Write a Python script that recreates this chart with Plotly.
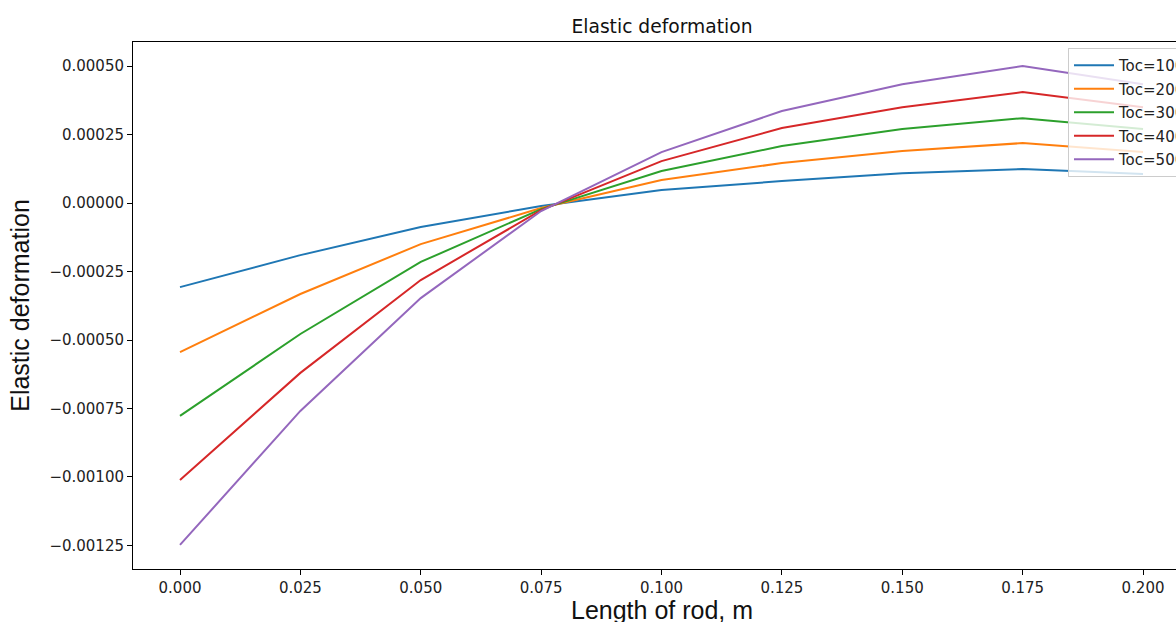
import plotly.graph_objects as go

x_len = [0.000, 0.025, 0.050, 0.075, 0.100, 0.125, 0.150, 0.175, 0.200]

toc_100 = [-0.000307, -0.000190, -0.0000876, -0.000011, 0.0000474, 0.0000803, 0.000109, 0.000124, 0.000106]
toc_200 = [-0.000544, -0.000332, -0.000150, -0.000018, 0.000084, 0.000146, 0.000190, 0.000219, 0.000186]
toc_300 = [-0.000777, -0.000478, -0.000215, -0.000022, 0.000117, 0.000208, 0.000270, 0.000310, 0.000270]
toc_400 = [-0.001011, -0.000620, -0.000281, -0.000026, 0.000153, 0.000274, 0.000350, 0.000405, 0.000350]
toc_500 = [-0.001248, -0.000759, -0.000347, -0.000029, 0.000186, 0.000336, 0.000434, 0.000500, 0.000434]

series_names = ["Toc=100", "Toc=200", "Toc=300", "Toc=400", "Toc=500"]
series_vals = [toc_100, toc_200, toc_300, toc_400, toc_500]
colors = ["#1f77b4", "#ff7f0e", "#2ca02c", "#d62728", "#9467bd"]

fig = go.Figure()
for name, vals, c in zip(series_names, series_vals, colors):
    fig.add_trace(go.Scatter(x=x_len, y=vals, mode="lines", name=name, legendgroup=name,
                             line=dict(color=c, width=2)))

W, H = 1176, 622
L, T, B = 133, 42, 53
PH = H - T - B
fig.update_layout(
    width=W, height=H,
    margin=dict(l=L, r=0, t=T, b=B, autoexpand=False),
    plot_bgcolor="white", paper_bgcolor="white",
    font=dict(family="DejaVu Sans", color="#222"),
    title=dict(text="Elastic deformation", x=(662 - L) / (W - L), xref="paper",
               xanchor="center", y=1 - 26 / H, yref="container", yanchor="middle",
               font=dict(family="DejaVu Sans", size=18.7, color="#111")),
    showlegend=True,
    legend=dict(x=(1068 - L) / (W - L), y=(H - B - 48) / PH, xanchor="left", yanchor="top",
                bgcolor="rgba(255,255,255,0.8)", bordercolor="#cccccc", borderwidth=1,
                font=dict(family="DejaVu Sans", size=15, color="#222"),
                tracegroupgap=1, itemwidth=40),
    annotations=[dict(text="Length of rod, m", xref="paper", yref="paper",
                      x=(662 - L) / (W - L), y=(H - B - 610) / PH,
                      xanchor="center", yanchor="middle", showarrow=False,
                      font=dict(family="Liberation Sans", size=25, color="#111"))],
)
fig.update_xaxes(range=[-0.00976, 0.20685], tickmode="linear", tick0=0, dtick=0.025,
                 tickformat=".3f", showgrid=False, zeroline=False,
                 showline=True, linecolor="black", linewidth=1, mirror=True,
                 ticks="outside", ticklen=5, tickcolor="black",
                 tickfont=dict(family="DejaVu Sans", size=15, color="#222"))
fig.update_yaxes(range=[-0.001336, 0.000588], tickmode="linear", tick0=0, dtick=0.00025,
                 tickformat=".5f", showgrid=False, zeroline=False,
                 showline=True, linecolor="black", linewidth=1, mirror=False,
                 ticks="outside", ticklen=5, tickcolor="black",
                 tickfont=dict(family="DejaVu Sans", size=15, color="#222"),
                 title=dict(text="Elastic deformation", standoff=12,
                            font=dict(family="Liberation Sans", size=25, color="#111")))

fig.write_html("out.html", config={"displayModeBar": False},
               post_script="document.body.style.margin='0';document.body.style.overflow='hidden';")
